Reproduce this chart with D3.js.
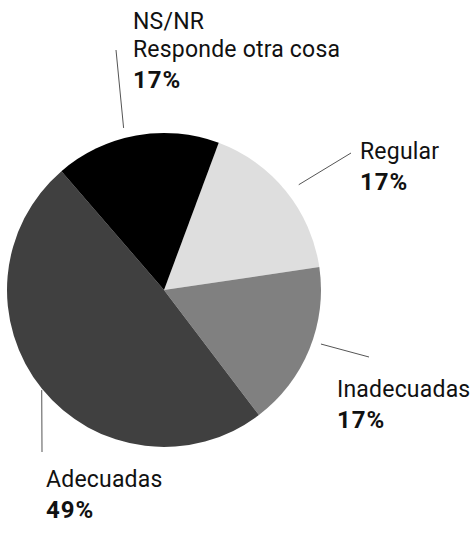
<!DOCTYPE html>
<html>
<head>
<meta charset="utf-8">
<script src="https://cdn.jsdelivr.net/npm/d3@7"></script>
<style>
  body { margin: 0; background: #fff; }
  text { font-family: Roboto, "Liberation Sans", sans-serif; fill: #111; }
</style>
</head>
<body>
<div id="chart"></div>
<script>
// data
const categories = ["Regular", "Inadecuadas", "Adecuadas", "NS/NR\nResponde otra cosa"];
const values = [17, 17, 49, 17];
const valueLabels = ["17%", "17%", "49%", "17%"];
const colors = ["#dedede", "#808080", "#404040", "#000000"];

const width = 474, height = 533;
const cx = 164, cy = 290, radius = 157;
const deg = Math.PI / 180;

let svg = d3.select("#chart").append("svg")
  .attr("width", width)
  .attr("height", height);

let g = svg.append("g").attr("transform", `translate(${cx},${cy})`);

let pie = d3.pie().sort(null)
  .startAngle(20.4 * deg)
  .endAngle(20.4 * deg + 2 * Math.PI);

let arcs = pie(values);
let arc = d3.arc().innerRadius(0).outerRadius(radius);

g.selectAll("path.slice")
  .data(arcs)
  .join("path")
  .attr("class", "slice")
  .attr("d", arc)
  .attr("fill", (d, i) => colors[i]);

// label layout: leader start (angle, radius from center), leader end and text anchor, relative to the pie center
const layout = [
  { a: 52, r0: 171, x1: 187, y1: -137, tx: 196, ty: -131 },
  { a: 109, r0: 166, x1: 205, y1: 67, tx: 173, ty: 107 },
  { a: 230.7, r0: 158, x1: -122, y1: 162, tx: -118, ty: 197 },
  { a: 346, r0: 167, x1: -48, y1: -240, tx: -31, ty: -261 }
];

let labels = g.selectAll("g.label")
  .data(arcs)
  .join("g")
  .attr("class", "label");

labels.append("line")
  .attr("x1", (d, i) => layout[i].r0 * Math.sin(layout[i].a * deg))
  .attr("y1", (d, i) => -layout[i].r0 * Math.cos(layout[i].a * deg))
  .attr("x2", (d, i) => layout[i].x1)
  .attr("y2", (d, i) => layout[i].y1)
  .attr("stroke", "#555")
  .attr("stroke-width", 1);

labels.each(function(d, i) {
  let lines = categories[i].split("\n");
  let t = d3.select(this).append("text")
    .attr("x", layout[i].tx)
    .attr("y", layout[i].ty)
    .style("font-size", "23px")
    .style("letter-spacing", "0.2px");
  lines.forEach((s, k) => {
    t.append("tspan")
      .attr("x", layout[i].tx)
      .attr("dy", k === 0 ? 0 : 28)
      .text(s);
  });
  t.append("tspan")
    .attr("x", layout[i].tx)
    .attr("dy", 31)
    .style("font-weight", "bold")
    .style("font-size", "24px")
    .style("letter-spacing", "1px")
    .text(valueLabels[i]);
});
</script>
</body>
</html>
